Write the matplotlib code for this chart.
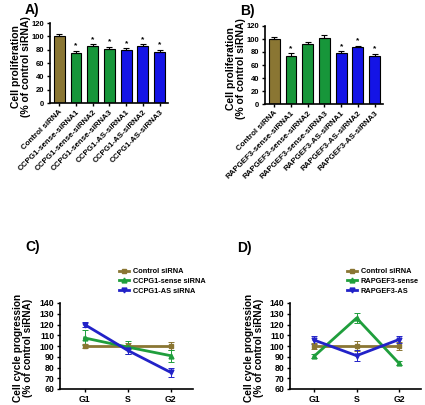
import numpy as np
import matplotlib.pyplot as plt

plt.rcParams['font.family'] = ['Liberation Sans', 'DejaVu Sans']
plt.rcParams['font.weight'] = 'bold'
plt.rcParams['axes.labelweight'] = 'bold'

# bar panels
labels_a = ['Control siRNA', 'CCPG1-sense-siRNA1', 'CCPG1-sense-siRNA2', 'CCPG1-sense-siRNA3',
            'CCPG1-AS-siRNA1', 'CCPG1-AS-siRNA2', 'CCPG1-AS-siRNA3']
vals_a = [100, 75, 85, 81, 80, 86, 77]
err_a = [3, 3, 3, 3, 2, 2, 2.5]
star_a = [False, True, True, True, True, True, True]

labels_b = ['Control siRNA', 'RAPGEF3-sense-siRNA1', 'RAPGEF3-sense-siRNA2', 'RAPGEF3-sense-siRNA3',
            'RAPGEF3-AS-siRNA1', 'RAPGEF3-AS-siRNA2', 'RAPGEF3-AS-siRNA3']
vals_b = [100, 74, 92, 101, 79, 87, 74]
err_b = [3, 4, 3, 5, 2, 3, 3]
star_b = [False, True, False, False, True, True, True]

# line panels
phases = ['G1', 'S', 'G2']
ctrl_c = [100, 100, 100]
ctrl_c_err = [2, 3, 4]
sense_c = [107.5, 99, 91]
sense_c_err = [7, 6, 5.5]
as_c = [120, 96, 75.5]
as_c_err = [2, 3, 4]
names_c = ['Control siRNA', 'CCPG1-sense siRNA', 'CCPG1-AS siRNA']

ctrl_d = [100, 100, 100]
ctrl_d_err = [3, 5, 4]
sense_d = [90.5, 126, 84]
sense_d_err = [2, 5, 2]
as_d = [105.5, 91, 106]
as_d_err = [4, 5, 3]
names_d = ['Control siRNA', 'RAPGEF3-sense', 'RAPGEF3-AS']

OLIVE = '#8a7633'
GREEN = '#17963a'
BLUE = '#1414e6'
LGREEN = '#1f9e3c'
LBLUE = '#2222c8'

W, H = 425, 405
fig = plt.figure(figsize=(W / 100, H / 100), dpi=100)


def px_axes(x0, x1, y0, y1):
    return fig.add_axes([x0 / W, 1 - y1 / H, (x1 - x0) / W, (y1 - y0) / H])


def style(ax, size):
    for s in ['top', 'right']:
        ax.spines[s].set_visible(False)
    for s in ['left', 'bottom']:
        ax.spines[s].set_linewidth(1.2)
    ax.tick_params(labelsize=size, width=1, length=2.5, pad=1.5)


def bar_panel(ax, labels, vals, err, stars):
    cols = [OLIVE] + [GREEN] * 3 + [BLUE] * 3
    x = np.arange(len(vals))
    ax.bar(x, vals, width=0.65, color=cols, edgecolor='black', linewidth=0.8)
    ax.errorbar(x, vals, yerr=[np.zeros(len(err)), err], fmt='none', ecolor='black',
                elinewidth=0.8, capsize=2.5, capthick=0.8)
    for xi, v, e, s in zip(x, vals, err, stars):
        if s:
            ax.text(xi, v + e + 2, '*', ha='center', va='bottom', fontsize=6)
    ax.set_xlim(-0.55, 6.5)
    ax.set_ylim(0, 120)
    ax.set_yticks(np.arange(0, 121, 20))
    ax.set_xticks(x)
    style(ax, 5.5)
    ax.set_xticklabels(labels, rotation=45, ha='right', rotation_mode='anchor', fontsize=5.7)
    ax.set_ylabel('Cell proliferation\n(% of control siRNA)', fontsize=7.5, linespacing=1.0)
    ax.yaxis.set_label_coords(-0.16, 0.45)


def line_panel(ax, ctrl, ctrl_err, sense, sense_err, anti, anti_err, names, leg_xy):
    x = np.arange(len(phases))
    ax.errorbar(x, ctrl, yerr=ctrl_err, color=OLIVE, marker='s', ms=3.5, lw=2,
                capsize=2.5, elinewidth=0.7, capthick=0.7, label=names[0])
    ax.errorbar(x, sense, yerr=sense_err, color=LGREEN, marker='^', ms=3.5, lw=2,
                capsize=2.5, elinewidth=0.7, capthick=0.7, label=names[1])
    ax.errorbar(x, anti, yerr=anti_err, color=LBLUE, marker='v', ms=3.5, lw=2,
                capsize=2.5, elinewidth=0.7, capthick=0.7, label=names[2])
    ax.set_xlim(-0.57, 2.52)
    ax.set_ylim(60, 140)
    ax.set_yticks(np.arange(60, 141, 10))
    ax.set_xticks(x)
    style(ax, 6.3)
    ax.set_xticklabels(phases, fontsize=6.3)
    ax.set_ylabel('Cell cycle progression\n(% of control siRNA)', fontsize=7.3, linespacing=1.0)
    ax.yaxis.set_label_coords(-0.2, 0.48)
    handles, labs = ax.get_legend_handles_labels()
    handles = [h[0] for h in handles]
    ax.legend(handles, labs, loc='upper left', bbox_to_anchor=(leg_xy[0] / W, 1 - leg_xy[1] / H),
              bbox_transform=fig.transFigure, frameon=False, fontsize=5.3, handlelength=1.4,
              handletextpad=0.5, labelspacing=0.35, borderaxespad=0, borderpad=0)


ax_a = px_axes(50, 168, 23, 103)
bar_panel(ax_a, labels_a, vals_a, err_a, star_a)
ax_b = px_axes(265, 383, 26, 104)
bar_panel(ax_b, labels_b, vals_b, err_b, star_b)

ax_c = px_axes(60, 193, 303, 389)
line_panel(ax_c, ctrl_c, ctrl_c_err, sense_c, sense_c_err, as_c, as_c_err, names_c, (119, 268))
ax_d = px_axes(290, 421, 303, 389)
line_panel(ax_d, ctrl_d, ctrl_d_err, sense_d, sense_d_err, as_d, as_d_err, names_d, (347, 268))

for lab, (px, py) in zip(['A)', 'B)', 'C)', 'D)'], [(25, 10), (240, 11), (25, 247), (237, 248)]):
    fig.text(px / W, 1 - py / H, lab, fontsize=10, fontweight='bold', ha='left', va='center')

fig.savefig('out.png', dpi=100)
